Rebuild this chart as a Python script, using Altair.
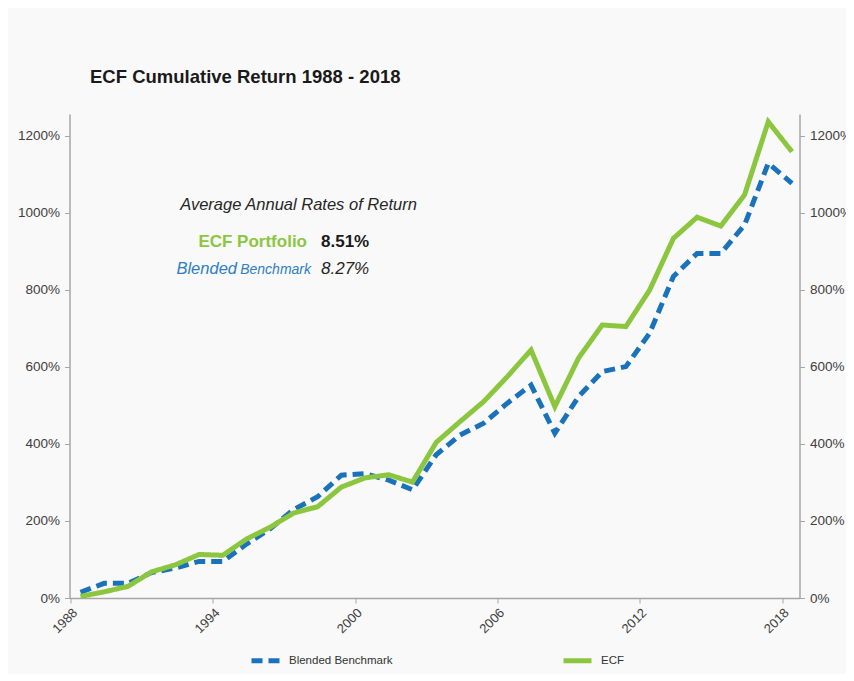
import altair as alt
import pandas as pd

# ---- data ----
years = list(range(1988, 2019))
ecf = [4, 16, 30, 68, 86, 113, 111, 153, 184, 221, 237, 288, 312, 320, 301, 404,
       458, 510, 575, 644, 497, 623, 709, 705, 800, 934, 989, 966, 1047, 1237, 1159]
blended = [15, 38, 38, 66, 78, 95, 95, 140, 180, 230, 263, 319, 323, 306, 281, 372,
           423, 454, 506, 553, 428, 523, 588, 601, 688, 835, 895, 895, 969, 1129, 1077]
series_names = ["Blended Benchmark", "ECF"]
series_colors = ["#1A72BB", "#8CC63F"]
tick_years = [1988, 1994, 2000, 2006, 2012, 2018]
y_ticks = [0, 200, 400, 600, 800, 1000, 1200]

title_text = "ECF Cumulative Return 1988 - 2018"
note_heading = "Average Annual Rates of Return"
note_ecf_label = "ECF Portfolio"
note_ecf_value = "8.51%"
note_bl_label1 = "Blended"
note_bl_label2 = "Benchmark"
note_bl_value = "8.27%"

rows = []
for y, b, e in zip(years, blended, ecf):
    rows.append({"date": f"{y}-06-01", "series": series_names[0], "value": b})
    rows.append({"date": f"{y}-06-01", "series": series_names[1], "value": e})
df = pd.DataFrame(rows)

FONT = "Liberation Sans"
AXIS_GREY = "#A6A6A6"

x_enc = alt.X(
    "date:T",
    scale=alt.Scale(
        type="utc",
        domain=[alt.DateTime(year=1987, month=12, date=15, utc=True),
                alt.DateTime(year=2018, month=9, date=25, utc=True)],
    ),
    axis=alt.Axis(
        values=[alt.DateTime(year=y, month=1, date=1, utc=True) for y in tick_years],
        format="%Y", labelAngle=-45, title=None, grid=False,
        domainColor=AXIS_GREY, domainWidth=1.5, tickColor=AXIS_GREY, tickSize=5,
        labelFont=FONT, labelFontSize=13, labelColor="#404040", labelPadding=3,
    ),
)

y_scale = alt.Scale(domain=[0, 1257], nice=False, zero=True)

def y_axis(orient):
    return alt.Axis(
        orient=orient, values=y_ticks, labelExpr="datum.value + '%'", title=None,
        grid=False, domainColor=AXIS_GREY, domainWidth=1.5, tickColor=AXIS_GREY,
        tickSize=5, labelFont=FONT, labelFontSize=13.5, labelColor="#404040",
        labelPadding=5,
    )

legend_params = dict(
    title=None, orient="none", direction="horizontal",
    legendX=179.5, legendY=530, symbolType="stroke", symbolSize=784,
    symbolStrokeWidth=5, labelFont=FONT, labelFontSize=11.5,
    labelColor="#333333", labelOffset=7, columnPadding=160, padding=0,
)

lines = alt.Chart(df).mark_line(strokeWidth=5, strokeCap="butt").encode(
    x=x_enc,
    y=alt.Y("value:Q", scale=y_scale, axis=y_axis("left")),
    color=alt.Color(
        "series:N",
        scale=alt.Scale(domain=series_names, range=series_colors),
        legend=alt.Legend(**legend_params),
    ),
    strokeDash=alt.StrokeDash(
        "series:N",
        scale=alt.Scale(domain=series_names, range=[[11, 6], [1, 0]]),
        legend=alt.Legend(**legend_params),
    ),
)

right_axis = alt.Chart(df).mark_line(opacity=0).encode(
    x=x_enc,
    y=alt.Y("value:Q", scale=y_scale, axis=y_axis("right")),
)

def text_layer(txt, x, y, align, size, color, weight="normal", style="normal", font=FONT):
    return alt.Chart(pd.DataFrame({"t": [txt]})).mark_text(
        align=align, baseline="alphabetic", fontSize=size, font=font,
        fontWeight=weight, fontStyle=style, color=color,
    ).encode(x=alt.value(x), y=alt.value(y), text="t:N")

texts = [
    text_layer(title_text, 20.5, -31, "left", 18.5, "#1A1A1A", weight="bold"),
    text_layer(note_heading, 229, 96, "center", 16.5, "#262626", style="italic"),
    text_layer(note_ecf_label, 237.5, 133, "right", 17, "#8DC63F", weight="bold"),
    text_layer(note_ecf_value, 251.5, 133, "left", 17, "#1A1A1A", weight="bold"),
    text_layer(note_bl_label1, 167.5, 160, "right", 16.5, "#2E7EC4", style="italic"),
    text_layer(note_bl_label2, 241.5, 160, "right", 14, "#2E7EC4", style="italic"),
    text_layer(note_bl_value, 251.5, 160, "left", 17, "#262626", style="italic"),
]

chart = alt.layer(lines, right_axis, *texts).resolve_axis(y="independent").properties(
    width=730, height=484,
    autosize=alt.AutoSizeParams(type="none"),
    padding={"left": 61.5, "top": 106, "right": 46, "bottom": 76},
    background="#F9F9F9",
).configure_view(stroke=None)

chart.save("out.html", embed_options={"renderer": "svg", "actions": False})
